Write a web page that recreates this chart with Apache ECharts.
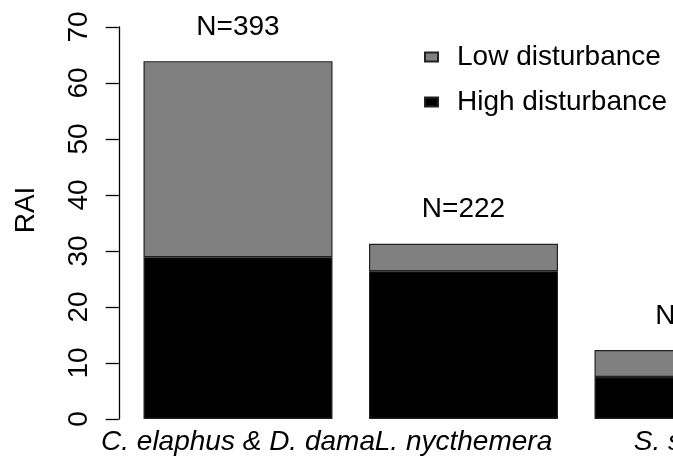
<!DOCTYPE html>
<html>
<head>
<meta charset="utf-8">
<script src="https://cdn.jsdelivr.net/npm/echarts@6/dist/echarts.min.js"></script>
<style>
html,body{margin:0;padding:0;background:#fff;width:673px;height:461px;overflow:hidden;}
#chart{width:802px;height:461px;}
</style>
</head>
<body>
<div id="chart"></div>
<script>
const categories = ['C. elaphus & D. dama', 'L. nycthemera', 'S. scrofa'];
const highDisturbance = [28.9, 26.4, 7.5];
const lowDisturbance = [35.0, 4.9, 4.8];
const sampleSizes = [393, 222, 68];
const yMin = 0, yMax = 70, yStep = 10;

const FONT = 'Liberation Sans, Arial, Helvetica, sans-serif';
const chart = echarts.init(document.getElementById('chart'), null, {renderer: 'canvas'});
chart.setOption({
  animation: false,
  backgroundColor: '#fff',
  textStyle: {fontFamily: FONT},
  grid: {left: 125.25, top: 27, right: 0.25, bottom: 42, containLabel: false},
  legend: {
    orient: 'vertical', left: 419, top: 38, itemWidth: 13, itemHeight: 9, itemGap: 17,
    icon: 'rect',
    data: ['Low disturbance', 'High disturbance'],
    textStyle: {fontSize: 28, color: '#000', fontFamily: FONT, lineHeight: 28, padding: [0, 0, 0, 14]}
  },
  xAxis: {
    type: 'category', data: categories,
    axisLine: {show: false}, axisTick: {show: false},
    axisLabel: {interval: 0, fontSize: 28, fontStyle: 'italic', color: '#000', margin: 9, fontFamily: FONT}
  },
  yAxis: {
    type: 'value', min: yMin, max: yMax, interval: yStep, offset: 6.5,
    splitLine: {show: false},
    axisLine: {show: true, lineStyle: {color: '#000', width: 1.3}},
    axisTick: {show: true, length: 13, lineStyle: {color: '#000', width: 1.3}},
    axisLabel: {rotate: 90, fontSize: 28, color: '#000', margin: 25, fontFamily: FONT}
  },
  graphic: [{
    type: 'text', x: 26, y: 210, rotation: Math.PI / 2,
    style: {text: 'RAI', font: '28px ' + FONT, fill: '#000', textAlign: 'center', textVerticalAlign: 'middle'}
  }],
  series: [
    {
      name: 'High disturbance', type: 'bar', stack: 'total', data: highDisturbance,
      barWidth: 189,
      itemStyle: {color: '#000', borderColor: '#222', borderWidth: 1.2}
    },
    {
      name: 'Low disturbance', type: 'bar', stack: 'total', data: lowDisturbance,
      barWidth: 189,
      itemStyle: {color: '#808080', borderColor: '#222', borderWidth: 1.2},
      label: {
        show: true, position: 'top', distance: 20, fontSize: 28, color: '#000', fontFamily: FONT,
        formatter: p => 'N=' + sampleSizes[p.dataIndex]
      }
    }
  ]
});
</script>
</body>
</html>
